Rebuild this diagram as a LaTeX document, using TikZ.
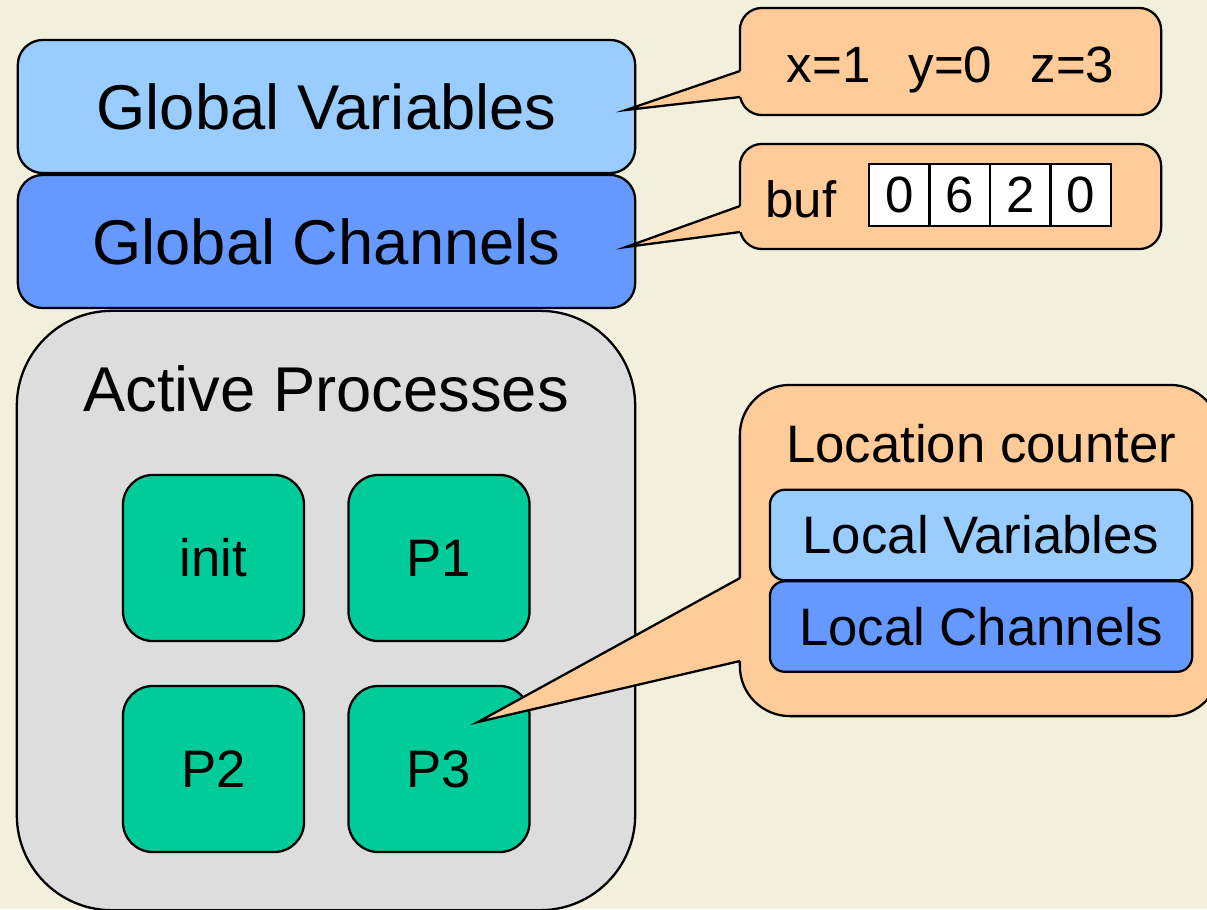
\documentclass[tikz,border=0pt]{standalone}
\usepackage{fontspec}
\setmainfont{Liberation Sans}
\definecolor{bgc}{RGB}{242,240,220}
\definecolor{lblue}{HTML}{99CCFF}
\definecolor{mblue}{HTML}{6699FF}
\definecolor{pgreen}{HTML}{00CC99}
\definecolor{pgrey}{HTML}{DDDDDD}
\definecolor{peach}{HTML}{FFCC99}
\tikzset{
  box/.style={draw=black, line width=0.65pt, rounded corners=0.25cm, inner sep=0pt},
  bigtext/.style={font=\fontsize{18}{21}\selectfont},
  midtext/.style={font=\fontsize{15}{18}\selectfont},
  smalltext/.style={font=\fontsize{14.5}{17}\selectfont},
  gvarbox/.style={box, fill=lblue, bigtext, minimum width=6.17cm, minimum height=1.33cm},
  gchanbox/.style={box, fill=mblue, bigtext, minimum width=6.17cm, minimum height=1.33cm},
  procbox/.style={box, fill=pgreen, midtext, rounded corners=0.3cm, minimum width=1.81cm, minimum height=1.66cm},
  calloutbox/.style={box, fill=peach, rounded corners=0.22cm},
  localbox/.style={box, rounded corners=0.15cm, midtext, minimum width=4.22cm, minimum height=0.905cm},
  cell/.style={draw=black, line width=0.65pt, fill=white, inner sep=0pt, smalltext, minimum width=0.605cm, minimum height=0.62cm},
  ptrfill/.style={fill=peach},
  ptrline/.style={draw=black, line width=0.65pt, line join=miter},
  plain/.style={inner sep=0pt}
}
\begin{document}
\begin{tikzpicture}[x=0.01cm, y=-0.01cm]
\useasboundingbox (0,0) rectangle (1207,909);
\clip (0,0) rectangle (1207,909);
\fill[bgc] (0,0) rectangle (1207,909);

% global boxes
\node[gvarbox] (gv) at (326.5,106.5) {Global Variables};
\node[gchanbox] (gc) at (326.5,241.5) {Global Channels};

% active processes
\node[box, fill=pgrey, rounded corners=0.95cm, minimum width=6.18cm, minimum height=5.99cm] (active) at (326,610.5) {};
\node[plain, bigtext] (activelabel) at (326,389) {Active Processes};
\node[procbox] (init) at (213.5,558) {init};
\node[procbox] (p1) at (439,558) {P1};
\node[procbox] (p2) at (213.5,769) {P2};
\node[procbox] (p3) at (439,769) {P3};

% callout 1: variable values
\node[calloutbox, minimum width=4.21cm, minimum height=1.07cm] (c1) at (950.5,61.5) {};
\coordinate (t1) at (626,110);
\coordinate (b1a) at (740,71);
\coordinate (b1b) at (740,97);
\fill[ptrfill] (t1) -- (b1a) -- (743,71) -- (743,97) -- (b1b) -- cycle;
\draw[ptrline] (b1a) -- (t1) -- (b1b);
\node[plain, smalltext, anchor=base] (vals) at (950.5,82) {x=1\hspace{0.75em}y=0\hspace{0.75em}z=3};

% callout 2: channel buffer
\node[calloutbox, minimum width=4.21cm, minimum height=1.05cm] (c2) at (950.5,196.5) {};
\coordinate (t2) at (626,247);
\coordinate (b2a) at (740,206);
\coordinate (b2b) at (740,232);
\fill[ptrfill] (t2) -- (b2a) -- (743,206) -- (743,232) -- (b2b) -- cycle;
\draw[ptrline] (b2a) -- (t2) -- (b2b);
\node[plain, smalltext, anchor=base] (buf) at (801,217) {buf};
\node[cell] (k1) at (899.25,195) {0};
\node[cell] (k2) at (959.75,195) {6};
\node[cell] (k3) at (1020.25,195) {2};
\node[cell] (k4) at (1080.75,195) {0};

% callout 3: process state
\node[calloutbox, rounded corners=0.5cm, minimum width=4.8cm, minimum height=3.31cm] (c3) at (980,550.5) {};
\coordinate (t3) at (478,722);
\coordinate (b3a) at (740,578);
\coordinate (b3b) at (740,661);
\fill[ptrfill] (t3) -- (b3a) -- (743,578) -- (743,661) -- (b3b) -- cycle;
\draw[ptrline] (b3a) -- (t3) -- (b3b);
\node[plain, midtext] (loc) at (981,444) {Location counter};
\node[localbox, fill=lblue] (lv) at (981,535) {Local Variables};
\node[localbox, fill=mblue] (lc) at (981,626.5) {Local Channels};
\end{tikzpicture}
\end{document}
